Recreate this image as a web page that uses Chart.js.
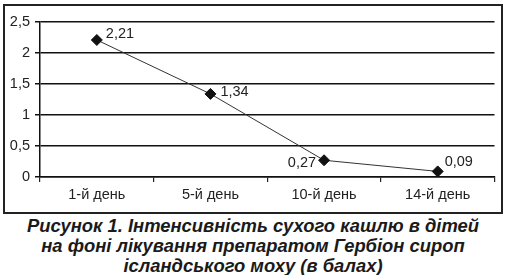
<!DOCTYPE html>
<html><head><meta charset="utf-8">
<script src="https://cdn.jsdelivr.net/npm/chart.js"></script>
<style>
html,body{margin:0;padding:0;background:#fff;width:506px;height:275px;overflow:hidden;}
#frame{position:absolute;left:3px;top:4px;width:496px;height:206px;border:2px solid #222;}
#frame canvas{display:block;}
#cap{position:absolute;left:0;top:216px;width:506px;text-align:center;font-family:"Liberation Sans",Arial,sans-serif;font-weight:bold;font-style:italic;font-size:18.4px;line-height:20px;color:#1a1a1a;}
</style></head>
<body>
<div id="frame"><canvas id="c" width="496" height="206"></canvas></div>
<div id="cap">Рисунок 1. Інтенсивність сухого кашлю в дітей<br>на фоні лікування препаратом Гербіон сироп<br>ісландського моху (в балах)</div>
<script>
const categories = ['1-й день', '5-й день', '10-й день', '14-й день'];
const values = [2.21, 1.34, 0.27, 0.09];
const valueLabels = ['2,21', '1,34', '0,27', '0,09'];
const yTickLabels = ['0', '0,5', '1', '1,5', '2', '2,5'];

const labelPlacement = [
  {dx: 9, dy: -6, align: 'left'},
  {dx: 10, dy: -2, align: 'left'},
  {dx: -8, dy: 3, align: 'right'},
  {dx: 7, dy: -9, align: 'left'}
];

const dataLabelPlugin = {
  id: 'dataLabels',
  afterDatasetsDraw(chart) {
    const ctx = chart.ctx;
    const meta = chart.getDatasetMeta(0);
    ctx.save();
    ctx.font = '14.5px "Liberation Sans", Arial, sans-serif';
    ctx.fillStyle = '#222';
    ctx.textBaseline = 'middle';
    meta.data.forEach((pt, i) => {
      const p = labelPlacement[i];
      ctx.textAlign = p.align;
      ctx.fillText(valueLabels[i], pt.x + p.dx, pt.y + p.dy);
    });
    ctx.restore();
  }
};

new Chart(document.getElementById('c'), {
  type: 'line',
  data: {
    labels: categories,
    datasets: [{
      data: values,
      borderColor: '#333',
      borderWidth: 1,
      pointStyle: 'rectRot',
      pointRadius: 5.5,
      pointBackgroundColor: '#111',
      pointBorderColor: '#111',
      pointBorderWidth: 1,
      tension: 0
    }]
  },
  options: {
    responsive: false,
    animation: false,
    events: [],
    layout: {padding: {top: 16, right: 6, left: 0, bottom: 0}},
    plugins: {legend: {display: false}, tooltip: {enabled: false}},
    scales: {
      x: {
        type: 'category',
        offset: true,
        grid: {offset: true, drawOnChartArea: false, drawTicks: true, tickLength: 5, color: '#222', lineWidth: 1.2},
        border: {display: true, color: '#111', width: 1.5},
        ticks: {color: '#222', font: {family: '"Liberation Sans", Arial, sans-serif', size: 14.5}, padding: 4, maxRotation: 0},
        afterFit(s) { s.height = 35; }
      },
      y: {
        min: 0, max: 2.5,
        ticks: {stepSize: 0.5, color: '#222', font: {family: '"Liberation Sans", Arial, sans-serif', size: 14.5}, padding: 5,
          callback: (v, i) => yTickLabels[i]},
        grid: {color: '#111', lineWidth: 1.5, tickLength: 5, drawTicks: true},
        border: {display: true, color: '#111', width: 1.5},
        afterFit(s) { s.width = 35; }
      }
    }
  },
  plugins: [dataLabelPlugin]
});
</script>
</body></html>
